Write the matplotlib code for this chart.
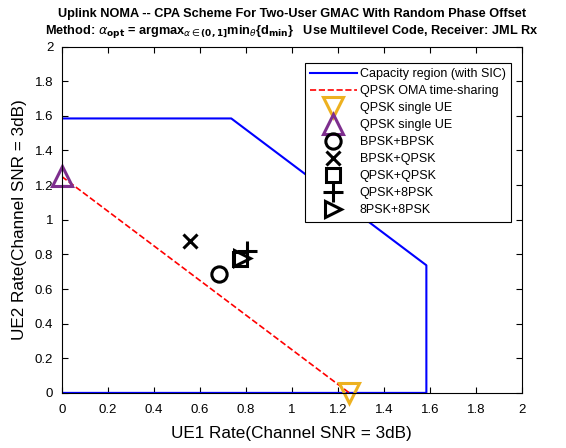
import numpy as np
import matplotlib
matplotlib.use("Agg")
import matplotlib.pyplot as plt
from matplotlib.ticker import FuncFormatter

plt.rcParams['font.family'] = ['Liberation Sans', 'DejaVu Sans']
plt.rcParams['mathtext.fontset'] = 'dejavusans'

# ---- data (rates, bits/channel use) ----
cap_x = [0, 0, 0.737, 1.585, 1.585, 0]
cap_y = [0, 1.585, 1.585, 0.737, 0, 0]

oma_x = [0, 1.25]
oma_y = [1.25, 0]

ue1_single = (1.25, 0.0)
ue2_single = (0.0, 1.25)

combo_labels = ['BPSK+BPSK', 'BPSK+QPSK', 'QPSK+QPSK', 'QPSK+8PSK', '8PSK+8PSK']
combo_x = [0.685, 0.559, 0.776, 0.805, 0.782]
combo_y = [0.684, 0.879, 0.776, 0.822, 0.780]
combo_markers = ['o', 'x', 's', '+', '>']
combo_sizes = [11, 10, 10, 14, 11]

ticks = np.arange(0, 2.01, 0.2)

fig = plt.figure(figsize=(5.66, 4.48), dpi=100)
ax = fig.add_axes([0.109, 0.123, 0.813, 0.773])

ax.plot(cap_x, cap_y, color='b', lw=1.5, label='Capacity region (with SIC)')
ax.plot(oma_x, oma_y, 'r--', lw=1.2, label='QPSK OMA time-sharing')
ax.plot(*ue1_single, 'v', ms=14, mfc='none', mec='#EDB120', mew=2.2,
        label='QPSK single UE', clip_on=False)
ax.plot(*ue2_single, '^', ms=14, mfc='none', mec='#7E2F8E', mew=2.2,
        label='QPSK single UE', clip_on=False)
for lab, x, y, m, s in zip(combo_labels, combo_x, combo_y, combo_markers, combo_sizes):
    ax.plot(x, y, m, ms=s, mfc='none', mec='k', mew=2.2, ls='none', label=lab)

ax.set_xlim(0, 2)
ax.set_ylim(0, 2)
ax.set_xticks(ticks)
ax.set_yticks(ticks)
fmt = FuncFormatter(lambda v, p: ('%.1f' % v).rstrip('0').rstrip('.'))
ax.xaxis.set_major_formatter(fmt)
ax.yaxis.set_major_formatter(fmt)
ax.tick_params(direction='in', top=True, right=True, labelsize=9.5, length=4)
ax.tick_params(axis='x', pad=8)
ax.tick_params(axis='y', pad=6)

ax.set_xlabel('UE1 Rate(Channel SNR = 3dB)', fontsize=12.3, labelpad=7)
ax.set_ylabel('UE2 Rate(Channel SNR = 3dB)', fontsize=12.3, labelpad=6)

title = ('Uplink NOMA -- CPA Scheme For Two-User GMAC With Random Phase Offset\n'
         r'Method: $\alpha_{\mathbf{opt}}$ = argmax$_{\alpha\in\mathbf{(0,1]}}$'
         r'min$_{\theta}${d$_{\mathbf{min}}$}   Use Multilevel Code, Receiver: JML Rx')
ax.set_title(title, fontsize=9.2, fontweight='bold', pad=9, linespacing=1.3)

leg = ax.legend(loc='upper right', bbox_to_anchor=(0.985, 0.964), fontsize=9,
                labelspacing=0.4, handlelength=3.7, handletextpad=0.25,
                borderpad=0.45, borderaxespad=0.3, fancybox=False,
                edgecolor='k', framealpha=1)
leg.get_frame().set_linewidth(0.8)

fig.savefig('out.png', dpi=100)
